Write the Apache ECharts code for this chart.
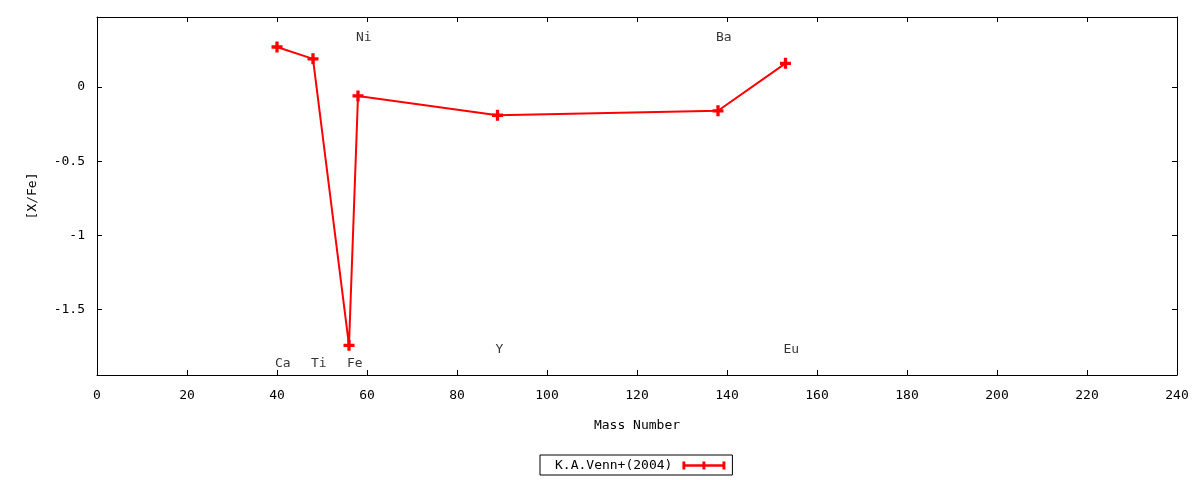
<!DOCTYPE html>
<html>
<head>
<meta charset="utf-8">
<script src="https://cdn.jsdelivr.net/npm/echarts@6/dist/echarts.min.js"></script>
<style>
  html, body { margin: 0; padding: 0; background: #fff; }
  #main { width: 1200px; height: 480px; }
</style>
</head>
<body>
<div id="main"></div>
<script>
// element names, mass numbers and [X/Fe] values (K.A.Venn+ 2004)
var elements = ['Ca', 'Ti', 'Fe', 'Ni', 'Y', 'Ba', 'Eu'];
var massNumbers = [40, 48, 56, 58, 89, 138, 153];
var xFe = [0.27, 0.19, -1.74, -0.06, -0.19, -0.16, 0.16];
// height where each element name is written
var labelY = [-1.865, -1.865, -1.865, 0.33, -1.77, 0.33, -1.77];
var yTicks = [-1.5, -1, -0.5, 0];

var font = 'DejaVu Sans Mono';
var plus = 'path://M3.5,0h3v3.5h3.5v3h-3.5v3.5h-3v-3.5h-3.5v-3h3.5z';
var legendIcon = 'path://M0,0h3v2.7h17.5v-2.7h3v2.7h17.5v-2.7h3v8h-3v-2.6h-17.5v2.6h-3v-2.6h-17.5v2.6h-3z';

var lineData = [];
var labelData = [];
for (var i = 0; i < elements.length; i++) {
  lineData.push([massNumbers[i], xFe[i]]);
  labelData.push({ value: [massNumbers[i], labelY[i]], name: elements[i] });
}

var myChart = echarts.init(document.getElementById('main'));

var axisCommon = {
  axisLine: { show: true, onZero: false, lineStyle: { color: '#000', width: 1 } },
  axisTick: { show: true, inside: true, length: 5, lineStyle: { color: '#000' } },
  splitLine: { show: false }
};

var option = {
  animation: false,
  textStyle: { fontFamily: font },
  grid: { left: 97, right: 23, top: 17, bottom: 105 },
  legend: {
    left: 540,
    top: 455,
    align: 'right',
    padding: [4, 7, 3, 15],
    borderColor: '#000',
    borderWidth: 1,
    borderRadius: 0,
    itemWidth: 43,
    itemHeight: 9,
    icon: legendIcon,
    textStyle: { fontFamily: font, fontSize: 13, color: '#000', padding: [0, 5, 0, 0] },
    data: ['K.A.Venn+(2004)']
  },
  xAxis: [
    Object.assign({}, axisCommon, {
      type: 'value',
      min: 0,
      max: 240,
      interval: 20,
      name: 'Mass Number',
      nameLocation: 'middle',
      nameGap: 44,
      nameTextStyle: { fontFamily: font, fontSize: 13, color: '#000' },
      axisLabel: { fontFamily: font, fontSize: 13, color: '#000', margin: 14 }
    }),
    Object.assign({}, axisCommon, {
      type: 'value',
      position: 'top',
      min: 0,
      max: 240,
      interval: 20,
      axisLabel: { show: false }
    })
  ],
  yAxis: [
    Object.assign({}, axisCommon, {
      type: 'value',
      min: -1.94,
      max: 0.472,
      name: '[X/Fe]',
      nameLocation: 'middle',
      nameGap: 58,
      nameTextStyle: { fontFamily: font, fontSize: 13, color: '#000' },
      axisTick: { show: true, inside: true, length: 5, lineStyle: { color: '#000' }, customValues: yTicks },
      axisLabel: { fontFamily: font, fontSize: 13, color: '#000', margin: 12, customValues: yTicks }
    }),
    Object.assign({}, axisCommon, {
      type: 'value',
      position: 'right',
      min: -1.94,
      max: 0.472,
      axisTick: { show: true, inside: true, length: 5, lineStyle: { color: '#000' }, customValues: yTicks },
      axisLabel: { show: false }
    })
  ],
  series: [
    {
      name: 'K.A.Venn+(2004)',
      type: 'line',
      data: lineData,
      symbol: plus,
      symbolSize: 11,
      itemStyle: { color: '#ff0000' },
      lineStyle: { color: '#ff0000', width: 2 }
    },
    {
      type: 'scatter',
      data: labelData,
      symbolSize: 0,
      silent: true,
      label: {
        show: true,
        position: 'right',
        distance: 0,
        offset: [-2, 0],
        formatter: '{b}',
        fontFamily: font,
        fontSize: 13,
        color: '#000'
      }
    }
  ]
};

myChart.setOption(option);
</script>
</body>
</html>
